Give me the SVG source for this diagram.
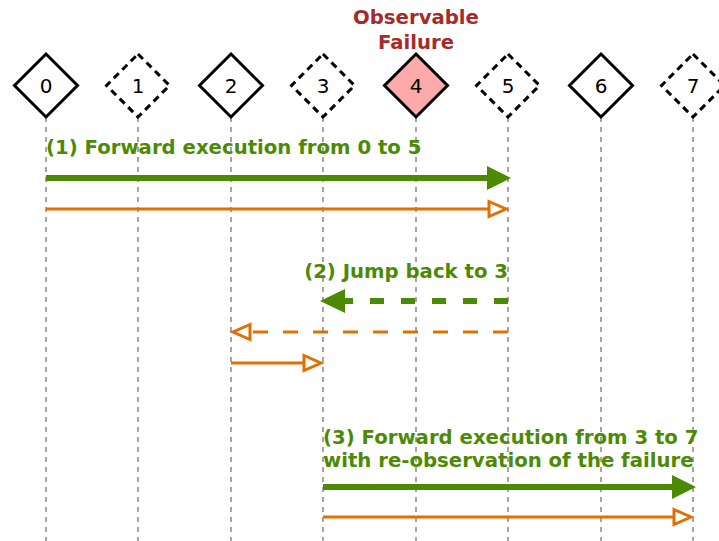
<svg xmlns="http://www.w3.org/2000/svg" width="719" height="541" viewBox="0 0 719 541">
<style>
.life{stroke:#888;stroke-width:1.5;stroke-dasharray:5,5;fill:none}
.node{stroke:#000;stroke-width:3;fill:#fff}
.dash{stroke-dasharray:7,5}
.num{font-family:"DejaVu Sans",sans-serif;font-size:20px;fill:#000;text-anchor:middle}
.lbl{font-family:"DejaVu Sans",sans-serif;font-weight:bold;font-size:19.7px;fill:#4c8a04}
.fail{font-family:"DejaVu Sans",sans-serif;font-weight:bold;font-size:19.7px;fill:#a52a2a;text-anchor:middle}
.g{stroke:#4c8a04;stroke-width:6;fill:none}
.o{stroke:#e07000;stroke-width:3;fill:none}
.gh{fill:#4c8a04}
.oh{fill:#fff;stroke:#e07000;stroke-width:3}
</style>
<rect width="719" height="541" fill="#fff"/>
<g id="lifelines">
<line class="life" x1="46" y1="117" x2="46" y2="541"/>
<line class="life" x1="138" y1="117" x2="138" y2="541"/>
<line class="life" x1="231" y1="117" x2="231" y2="541"/>
<line class="life" x1="323" y1="117" x2="323" y2="541"/>
<line class="life" x1="416" y1="117" x2="416" y2="541"/>
<line class="life" x1="508" y1="117" x2="508" y2="541"/>
<line class="life" x1="601" y1="117" x2="601" y2="541"/>
<line class="life" x1="693" y1="117" x2="693" y2="541"/>
</g>
<g id="node0"><polygon class="node" points="46,54 77.5,85.5 46,117 14.5,85.5"/><text class="num" x="46" y="93">0</text></g>
<g id="node1"><polygon class="node dash" points="138,54 169.5,85.5 138,117 106.5,85.5"/><text class="num" x="138" y="93">1</text></g>
<g id="node2"><polygon class="node" points="231,54 262.5,85.5 231,117 199.5,85.5"/><text class="num" x="231" y="93">2</text></g>
<g id="node3"><polygon class="node dash" points="323,54 354.5,85.5 323,117 291.5,85.5"/><text class="num" x="323" y="93">3</text></g>
<g id="node4"><polygon class="node" style="fill:#ffaaaa" points="416,54 447.5,85.5 416,117 384.5,85.5"/><text class="num" x="416" y="93">4</text>
<text class="fail" x="416" y="24">Observable</text><text class="fail" x="416" y="49">Failure</text></g>
<g id="node5"><polygon class="node dash" points="508,54 539.5,85.5 508,117 476.5,85.5"/><text class="num" x="508" y="93">5</text></g>
<g id="node6"><polygon class="node" points="601,54 632.5,85.5 601,117 569.5,85.5"/><text class="num" x="601" y="93">6</text></g>
<g id="node7"><polygon class="node dash" points="693,54 724.5,85.5 693,117 661.5,85.5"/><text class="num" x="693" y="93">7</text></g>
<g id="connectors">
<text class="lbl" x="46" y="154">(1) Forward execution from 0 to 5</text>
<line class="g" x1="46" y1="178" x2="490" y2="178"/>
<polygon class="gh" points="487,166 511,178 487,190"/>
<line class="o" x1="46" y1="209" x2="490" y2="209"/>
<polygon class="oh" points="489,201.5 506,209 489,216.5"/>
<text class="lbl" x="508" y="278" text-anchor="end">(2) Jump back to 3</text>
<line class="g" x1="508" y1="301" x2="342" y2="301" style="stroke-dasharray:14,17"/>
<polygon class="gh" points="345,289 320,301 345,313"/>
<line class="o" x1="508" y1="332" x2="248" y2="332" style="stroke-dasharray:15,15"/>
<polygon class="oh" points="250,324.5 233,332 250,339.5"/>
<line class="o" x1="231" y1="363" x2="304" y2="363"/>
<polygon class="oh" points="304,355.5 321,363 304,370.5"/>
<text class="lbl" x="323" y="444">(3) Forward execution from 3 to 7</text>
<text class="lbl" x="323" y="467">with re-observation of the failure</text>
<line class="g" x1="323" y1="487" x2="675" y2="487"/>
<polygon class="gh" points="672,475 696,487 672,499"/>
<line class="o" x1="323" y1="517" x2="675" y2="517"/>
<polygon class="oh" points="674,509.5 691,517 674,524.5"/>
</g>
</svg>
